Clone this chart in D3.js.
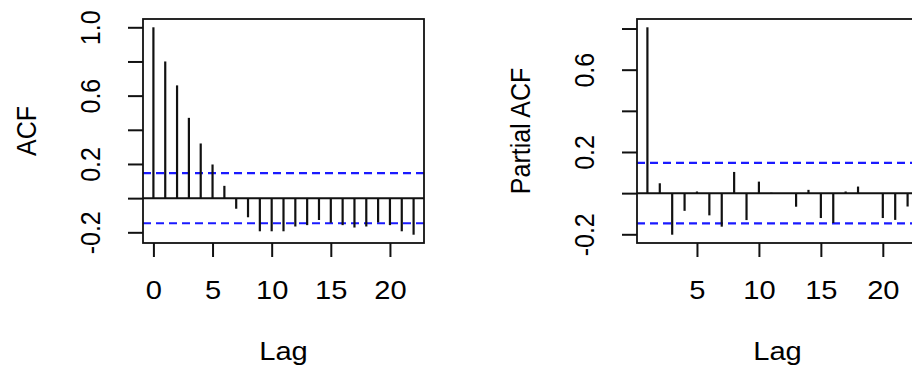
<!DOCTYPE html>
<html>
<head>
<meta charset="utf-8">
<script src="https://cdn.jsdelivr.net/npm/d3@7"></script>
<style>
  body { margin: 0; background: #fff; }
  text { font-family: "Liberation Sans", Arial, sans-serif; fill: #000; }
</style>
</head>
<body>
<svg id="main"></svg>
<script>

// acf panel
var acfLag = [0,1,2,3,4,5,6,7,8,9,10,11,12,13,14,15,16,17,18,19,20,21,22]
var acfVal = [1.0,0.80,0.66,0.47,0.32,0.197,0.072,-0.062,-0.112,-0.194,-0.194,-0.194,-0.166,-0.158,-0.128,-0.144,-0.158,-0.172,-0.166,-0.142,-0.158,-0.194,-0.214]
var acfYTicks = [-0.2,0,0.2,0.4,0.6,0.8,1.0]
var acfYLabels = ["-0.2","","0.2","","0.6","","1.0"]
var acfXTicks = [0,5,10,15,20]

// pacf panel
var pacfLag = [1,2,3,4,5,6,7,8,9,10,11,12,13,14,15,16,17,18,19,20,21,22]
var pacfVal = [0.806,0.048,-0.202,-0.086,0.008,-0.108,-0.163,0.103,-0.131,0.056,0.002,0.0,-0.066,0.016,-0.121,-0.145,0.008,0.032,0.0,-0.121,-0.13,-0.065]
var pacfYTicks = [-0.2,0,0.2,0.4,0.6,0.8]
var pacfYLabels = ["-0.2","","0.2","","0.6",""]
var pacfXTicks = [5,10,15,20]

var clim = 0.147

var chart = {
  width: 912,
  height: 369,
  top: 19,
  bottom: 243,
  fontsize: 26,
  stretch: 1.12   // picture is a bit wider than tall
}

var svg = d3.select("#main")
  .attr("width", chart.width)
  .attr("height", chart.height)

svg.append("rect")
  .attr("width", chart.width)
  .attr("height", chart.height)
  .attr("fill", "white")

// R style 4% padding of the range
function padded(ext) {
  var d = (ext[1] - ext[0]) * 0.04
  return [ext[0] - d, ext[1] + d]
}

function panel(left, lags, vals, yTicks, yLabels, xTicks, ytitle) {
  var right = left + 281
  var g = svg.append("g")

  var x = d3.scaleLinear()
    .domain(padded(d3.extent(lags)))
    .range([left, right])

  var y = d3.scaleLinear()
    .domain(padded(d3.extent(vals.concat([clim, -clim]))))
    .range([chart.bottom, chart.top])

  // zero line
  g.append("line")
    .attr("x1", left).attr("x2", right)
    .attr("y1", y(0)).attr("y2", y(0))
    .attr("stroke", "#111").attr("stroke-width", 2)

  // confidence lines
  g.selectAll(".ci")
    .data([clim, -clim])
    .enter().append("line")
    .attr("x1", left).attr("x2", right)
    .attr("y1", d => y(d)).attr("y2", d => y(d))
    .attr("stroke", "#1a1aff").attr("stroke-width", 2.2)
    .attr("stroke-dasharray", "8,5")

  // spikes
  g.selectAll(".bar")
    .data(lags)
    .enter().append("line")
    .attr("x1", d => x(d)).attr("x2", d => x(d))
    .attr("y1", y(0))
    .attr("y2", (d, i) => y(vals[i]))
    .attr("stroke", "#111").attr("stroke-width", 2.2)

  // box
  g.append("rect")
    .attr("x", left).attr("y", chart.top)
    .attr("width", right - left).attr("height", chart.bottom - chart.top)
    .attr("fill", "none").attr("stroke", "#111").attr("stroke-width", 1.8)

  // y axis
  var ya = g.append("g")
    .attr("transform", "translate(" + left + ",0)")
    .call(d3.axisLeft(y).tickValues(yTicks).tickSize(15)
      .tickFormat((d, i) => yLabels[i]))
  ya.select(".domain").remove()
  ya.selectAll("line").attr("stroke", "#111").attr("stroke-width", 2)
  ya.selectAll("text")
    .attr("x", null).attr("dy", null)
    .attr("transform", "translate(-43,0) scale(" + chart.stretch + ",1) rotate(-90)")
    .attr("text-anchor", "middle")
    .style("font-size", "25px")

  // x axis
  var xa = g.append("g")
    .attr("transform", "translate(0," + chart.bottom + ")")
    .call(d3.axisBottom(x).tickValues(xTicks).tickSize(14))
  xa.select(".domain").remove()
  xa.selectAll("line").attr("stroke", "#111").attr("stroke-width", 2)
  xa.selectAll("text")
    .attr("y", null).attr("dy", null)
    .attr("transform", "translate(0,56) scale(" + chart.stretch + ",1)")
    .style("font-size", chart.fontsize + "px")

  // titles
  g.append("text")
    .attr("transform", "translate(" + ((left + right) / 2) + ",360) scale(" + chart.stretch + ",1)")
    .attr("text-anchor", "middle")
    .style("font-size", chart.fontsize + "px")
    .text("Lag")

  g.append("text")
    .attr("transform", "translate(" + (left - 107) + "," + ((chart.top + chart.bottom) / 2) + ") scale(" + chart.stretch + ",1) rotate(-90)")
    .attr("text-anchor", "middle")
    .style("font-size", "25px")
    .text(ytitle)
}

panel(143, acfLag, acfVal, acfYTicks, acfYLabels, acfXTicks, "ACF")
panel(637, pacfLag, pacfVal, pacfYTicks, pacfYLabels, pacfXTicks, "Partial ACF")

</script>
</body>
</html>
